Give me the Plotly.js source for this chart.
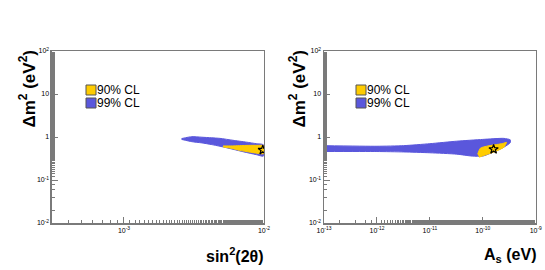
<!DOCTYPE html>
<html><head><meta charset="utf-8">
<script src="https://cdn.plot.ly/plotly-3.0.1.min.js"></script>
<style>html,body{margin:0;padding:0;background:#fff}#c{width:545px;height:270px}</style>
</head><body><div id="c"></div>
<script>
// ---- data ----
// Left panel: sin^2(2theta) vs dm^2 ; allowed regions as outlines
const leftBlueX = [0.00258, 0.00305, 0.0036, 0.0042, 0.00485, 0.006, 0.0075, 0.0088, 0.0099, 0.0099, 0.0088, 0.0072, 0.006, 0.00485, 0.0042, 0.0036, 0.00305, 0.00258];
const leftBlueY = [0.92, 1.02, 0.99, 0.96, 0.93, 0.84, 0.76, 0.70, 0.66, 0.36, 0.39, 0.45, 0.52, 0.61, 0.67, 0.73, 0.78, 0.88];
const leftYelX = [0.0051, 0.0058, 0.0067, 0.0078, 0.0089, 0.0099, 0.0099, 0.0089, 0.0078, 0.0067, 0.0058, 0.0051];
const leftYelY = [0.62, 0.62, 0.63, 0.64, 0.64, 0.63, 0.41, 0.42, 0.45, 0.49, 0.55, 0.59];
const leftBestX = [0.0098];
const leftBestY = [0.50];
// Right panel: A_s vs dm^2
const rightBlueX = [1e-13, 1e-12, 3.2e-12, 1e-11, 3.2e-11, 1e-10, 2.5e-10, 3.3e-10, 3.3e-10, 2.5e-10, 1.6e-10, 1e-10, 6.3e-11, 3.2e-11, 1e-11, 3.2e-12, 1e-12, 1e-13];
const rightBlueY = [0.63, 0.61, 0.63, 0.70, 0.80, 0.88, 0.93, 0.86, 0.74, 0.58, 0.45, 0.36, 0.36, 0.40, 0.43, 0.45, 0.46, 0.46];
const rightYelX = [8e-11, 9e-11, 1.25e-10, 2e-10, 2.5e-10, 2.8e-10, 2.5e-10, 1.8e-10, 1.1e-10, 8.5e-11];
const rightYelY = [0.40, 0.55, 0.62, 0.68, 0.72, 0.75, 0.58, 0.47, 0.38, 0.34];
const rightBestX = [1.6e-10];
const rightBestY = [0.52];
// legend / ticks
const legendNames = ['90% CL', '99% CL'];
const colors = ['#ffcc00', '#5a57dc'];
const yTickVals = [0.01, 0.1, 1, 10, 100];
const yTickText = ['10<sup>-2</sup>', '10<sup>-1</sup>', '1', '10', '10<sup>2</sup>'];
const xLeftTickVals = [0.001, 0.01];
const xLeftTickText = ['10<sup>-3</sup>', '10<sup>-2</sup>'];
const xRightTickVals = [1e-13, 1e-12, 1e-11, 1e-10, 1e-9];
const xRightTickText = ['10<sup>-13</sup>', '10<sup>-12</sup>', '10<sup>-11</sup>', '10<sup>-10</sup>', '10<sup>-9</sup>'];

const FONT = 'Liberation Sans, Arial, Helvetica, sans-serif';
const AX = '#7a7a7a';
const W = 545, H = 270;
const px = v => v / W, py = v => 1 - v / H;

function region(x, y, col, xa, ya) {
  return {type: 'scatter', mode: 'lines', x: x, y: y, fill: 'toself', fillcolor: col,
    line: {color: col, width: 1, shape: 'spline', smoothing: 0.6}, xaxis: xa, yaxis: ya,
    showlegend: false, hoverinfo: 'skip'};
}
function best(x, y, xa, ya) {
  return {type: 'scatter', mode: 'markers', x: x, y: y, xaxis: xa, yaxis: ya, showlegend: false,
    marker: {symbol: 'star-open', size: 7, color: '#000', line: {width: 1.2, color: '#000'}}, hoverinfo: 'skip'};
}

const data = [
  region(leftBlueX, leftBlueY, colors[1], 'x', 'y'),
  region(leftYelX, leftYelY, colors[0], 'x', 'y'),
  best(leftBestX, leftBestY, 'x', 'y'),
  region(rightBlueX, rightBlueY, colors[1], 'x2', 'y2'),
  region(rightYelX, rightYelY, colors[0], 'x2', 'y2'),
  best(rightBestX, rightBestY, 'x2', 'y2')
];

function xax(dom, range, tv, tt) {
  return {type: 'log', domain: dom, range: range, tickvals: tv, ticktext: tt,
    ticks: 'inside', ticklen: 6, tickcolor: AX, tickwidth: 1,
    minor: {ticks: 'inside', ticklen: 3, tickcolor: AX, showgrid: false},
    showline: true, linecolor: AX, linewidth: 1.5, mirror: true,
    showgrid: false, zeroline: false, tickfont: {family: FONT, size: 7, color: '#000'}};
}
function yax(dom, anchor) {
  return {type: 'log', domain: dom, range: [-2, 2], tickvals: yTickVals, ticktext: yTickText, anchor: anchor,
    ticks: 'inside', ticklen: 6, tickcolor: AX, tickwidth: 1,
    minor: {ticks: 'inside', ticklen: 3, tickcolor: AX, showgrid: false},
    showline: true, linecolor: AX, linewidth: 1.5, mirror: true,
    showgrid: false, zeroline: false, tickfont: {family: FONT, size: 7, color: '#000'}};
}

// manual ROOT-style legends (boxes + labels)
const shapes = [], annotations = [];
[86, 356].forEach(x0 => {
  legendNames.forEach((name, i) => {
    const yc = 90 + 13 * i;
    shapes.push({type: 'rect', xref: 'paper', yref: 'paper', x0: px(x0), x1: px(x0 + 10),
      y0: py(yc - 5), y1: py(yc + 5), fillcolor: colors[i], line: {color: '#555', width: 1}});
    annotations.push({text: name, xref: 'paper', yref: 'paper', x: px(x0 + 10), y: py(yc),
      xanchor: 'left', yanchor: 'middle', showarrow: false, borderpad: 0,
      font: {family: FONT, size: 12, color: '#000'}});
  });
});
const yTitle = '<b>Δm<sup>2</sup> (eV<sup>2</sup>)</b>';
annotations.push(
  {text: yTitle, xref: 'paper', yref: 'paper', x: px(27), y: py(49),
   xanchor: 'center', yanchor: 'top', textangle: -90, showarrow: false, font: {family: FONT, size: 17, color: '#000'}},
  {text: yTitle, xref: 'paper', yref: 'paper', x: px(297), y: py(49),
   xanchor: 'center', yanchor: 'top', textangle: -90, showarrow: false, font: {family: FONT, size: 17, color: '#000'}},
  {text: '<b>sin<sup>2</sup>(2θ)</b>', xref: 'paper', yref: 'paper', x: px(266), y: py(255),
   xanchor: 'right', yanchor: 'middle', showarrow: false, font: {family: FONT, size: 16, color: '#000'}},
  {text: '<b>A<sub>s</sub> (eV)</b>', xref: 'paper', yref: 'paper', x: px(538), y: py(255),
   xanchor: 'right', yanchor: 'middle', showarrow: false, font: {family: FONT, size: 16, color: '#000'}}
);

const yDom = [0.174, 0.811];
const layout = {
  width: W, height: H, margin: {l: 0, r: 0, t: 0, b: 0}, showlegend: false,
  paper_bgcolor: '#fff', plot_bgcolor: '#fff', font: {family: FONT},
  xaxis: Object.assign(xax([0.0954, 0.4844], [Math.log10(3.06e-4), -2], xLeftTickVals, xLeftTickText), {anchor: 'y'}),
  yaxis: yax(yDom, 'x'),
  xaxis2: Object.assign(xax([0.5945, 0.983], [-13, -9], xRightTickVals, xRightTickText), {anchor: 'y2'}),
  yaxis2: yax(yDom, 'x2'),
  shapes: shapes, annotations: annotations
};
Plotly.newPlot('c', data, layout, {staticPlot: true});
</script></body></html>
